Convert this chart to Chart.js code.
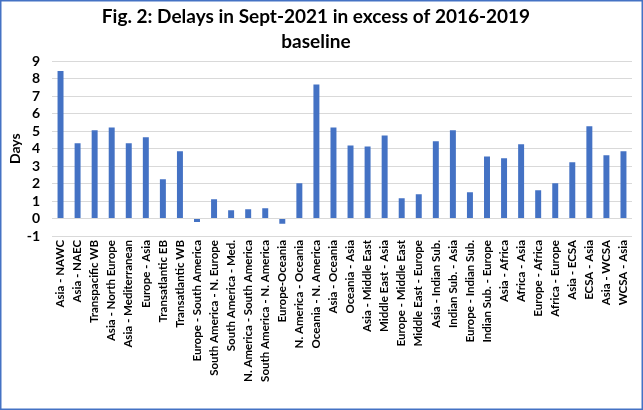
<!DOCTYPE html>
<html>
<head>
<meta charset="utf-8">
<script src="https://cdn.jsdelivr.net/npm/chart.js@4"></script>
<style>
  html, body { margin: 0; padding: 0; background: #fff; }
  canvas { display: block; }
</style>
</head>
<body>
<canvas id="chart" width="643" height="410"></canvas>
<script>
const routes = [
  'Asia - NAWC', 'Asia - NAEC', 'Transpacific WB', 'Asia - North Europe',
  'Asia - Mediterranean', 'Europe - Asia', 'Transatlantic EB', 'Transatlantic WB',
  'Europe - South America', 'South America - N. Europe', 'South America - Med.',
  'N. America - South America', 'South America - N. America', 'Europe-Oceania',
  'N. America - Oceania', 'Oceania - N. America', 'Asia - Oceania', 'Oceania - Asia',
  'Asia - Middle East', 'Middle East - Asia', 'Europe - Middle East', 'Middle East - Europe',
  'Asia - Indian Sub.', 'Indian Sub. - Asia', 'Europe - Indian Sub.', 'Indian Sub. - Europe',
  'Asia - Africa', 'Africa - Asia', 'Europe - Africa', 'Africa - Europe',
  'Asia - ECSA', 'ECSA - Asia', 'Asia - WCSA', 'WCSA - Asia'
];
const delays = [
  8.45, 4.31, 5.05, 5.22, 4.31, 4.65, 2.25, 3.85,
  -0.2, 1.1, 0.47, 0.53, 0.59, -0.3, 2.02, 7.68,
  5.22, 4.19, 4.13, 4.76, 1.16, 1.39, 4.42, 5.05,
  1.5, 3.56, 3.45, 4.25, 1.62, 2.02, 3.22, 5.28,
  3.62, 3.85
];
const titleLines = ['Fig. 2: Delays in Sept-2021 in excess of 2016-2019', 'baseline'];
const yTitle = 'Days';

const FONT = 'Lato, "Open Sans", sans-serif';

// outer frame like the Excel chart border
const framePlugin = {
  id: 'frame',
  afterDraw(chart) {
    const ctx = chart.ctx;
    ctx.save();
    ctx.strokeStyle = '#4472C4';
    ctx.lineWidth = 1.5;
    ctx.strokeRect(0.75, 0.75, chart.width - 1.5, chart.height - 1.5);
    ctx.restore();
  }
};

const ctx = document.getElementById('chart').getContext('2d');
new Chart(ctx, {
  type: 'bar',
  data: {
    labels: routes,
    datasets: [{
      label: 'Days',
      data: delays,
      backgroundColor: '#4472C4',
      barPercentage: 0.35,
      categoryPercentage: 1.0
    }]
  },
  options: {
    responsive: false,
    animation: false,
    layout: { padding: { left: 0, right: 11, top: 0, bottom: 0 } },
    plugins: {
      legend: { display: false },
      tooltip: { enabled: false },
      title: {
        display: true,
        text: titleLines,
        color: '#000',
        font: { family: FONT, size: 19, weight: 'bold', lineHeight: 1.3 },
        padding: { top: 5, bottom: 7 }
      }
    },
    scales: {
      x: {
        grid: { display: false, drawTicks: false },
        border: { display: false },
        ticks: {
          autoSkip: false,
          maxRotation: 90,
          minRotation: 90,
          padding: 4,
          color: '#000',
          font: { family: FONT, size: 11.5, weight: 'bold' }
        },
        afterFit(scale) { scale.height = 174; }
      },
      y: {
        min: -1,
        max: 9,
        ticks: {
          stepSize: 1,
          autoSkip: false,
          padding: 12,
          color: '#000',
          font: { family: FONT, size: 14, weight: 'bold' }
        },
        grid: { color: '#d9d9d9', lineWidth: 1, drawTicks: false },
        border: { display: false },
        title: {
          display: true,
          text: yTitle,
          color: '#000',
          font: { family: FONT, size: 14, weight: 'bold' },
          padding: { top: 7, bottom: 0 }
        },
        afterFit(scale) { scale.width = 52; }
      }
    }
  },
  plugins: [framePlugin]
});
</script>
</body>
</html>
